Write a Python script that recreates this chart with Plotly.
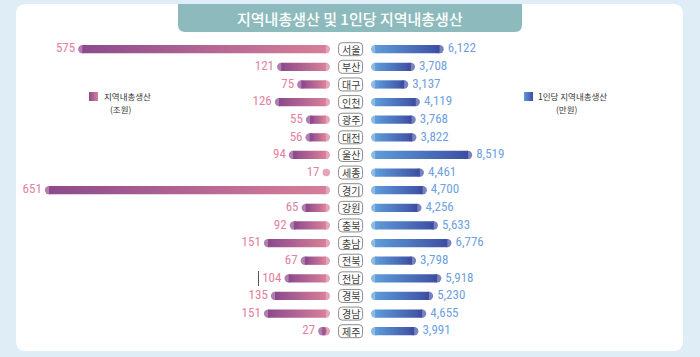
import plotly.graph_objects as go

# ---------------- data ----------------
regions = ["서울", "부산", "대구", "인천", "광주", "대전", "울산", "세종", "경기",
           "강원", "충북", "충남", "전북", "전남", "경북", "경남", "제주"]
grdp = [575, 121, 75, 126, 55, 56, 94, 17, 651, 65, 92, 151, 67, 104, 135, 151, 27]          # 조원
grdp_per_capita = [6122, 3708, 3137, 4119, 3768, 3822, 8519, 4461, 4700, 4256,
                   5633, 6776, 3798, 5918, 5230, 4655, 3991]                                  # 만원
title_text = "지역내총생산 및 1인당 지역내총생산"
left_legend = ["지역내총생산", "(조원)"]
right_legend = ["1인당 지역내총생산", "(만원)"]

# ---------------- style / geometry ----------------
W, H = 700, 357
BG = "#deedf6"
CARD = "#ffffff"
TITLE_BG = "#8dbbbd"
PURPLE, PINK = "#8d4a8d", "#d77f98"
LBLUE, DBLUE = "#5d9bd8", "#3e4fa3"
PINK_TXT, BLUE_TXT = "#e3819f", "#6fa1de"
NUM_FONT = "Liberation Sans Narrow, Roboto Condensed, Roboto, sans-serif"
KR_FONT = "Noto Sans CJK KR, Noto Sans, sans-serif"

L_ZERO_PX, L_SCALE = 330.0, 0.438      # left axis: zero pixel, px per unit
R_ZERO_PX, R_SCALE = 371.0, 0.01188    # right axis
ROW0_PX, ROW_PX = 49.2, 17.625
BAR_PX = 8.3
HALF = (BAR_PX / 2) / ROW_PX


def rr_path(x0, y0, x1, y1, r, top_round=True, bottom_round=True):
    p = []
    rb = r if bottom_round else 0
    rt = r if top_round else 0
    p.append(f"M {x0 + rb},{y0}")
    p.append(f"L {x1 - rb},{y0}")
    p.append(f"Q {x1},{y0} {x1},{y0 + rb}")
    p.append(f"L {x1},{y1 - rt}")
    p.append(f"Q {x1},{y1} {x1 - rt},{y1}")
    p.append(f"L {x0 + rt},{y1}")
    p.append(f"Q {x0},{y1} {x0},{y1 - rt}")
    p.append(f"L {x0},{y0 + rb}")
    p.append(f"Q {x0},{y0} {x0 + rb},{y0}")
    p.append("Z")
    return " ".join(p)


fig = go.Figure()


def add_bars(values, scale, xa, c_near, c_far, c_left, c_right):
    r = (BAR_PX / 2) / scale
    cx, cy, cc, cs = [], [], [], []
    for i, v in enumerate(values):
        if v > 2 * r:
            fig.add_trace(go.Scatter(
                x=[r, v - r, v - r, r, r],
                y=[i - HALF, i - HALF, i + HALF, i + HALF, i - HALF],
                mode="lines", fill="toself",
                line=dict(width=0, color="rgba(0,0,0,0)"),
                fillgradient=dict(type="horizontal",
                                  colorscale=[[0, c_left], [1, c_right]]),
                xaxis=xa, yaxis="y", hoverinfo="skip", showlegend=False))
            cx += [r, v - r]
            cy += [i, i]
            cc += [c_near, c_far]
            cs += [BAR_PX, BAR_PX]
        else:
            cx.append(v / 2)
            cy.append(i)
            cc.append(c_near)
            cs.append(v * scale)
    fig.add_trace(go.Scatter(
        x=cx, y=cy, mode="markers",
        marker=dict(size=cs, color=cc, line=dict(width=0)),
        xaxis=xa, yaxis="y", hoverinfo="skip", showlegend=False))


add_bars(grdp, L_SCALE, "x", PINK, PURPLE, PURPLE, PINK)
add_bars(grdp_per_capita, R_SCALE, "x2", LBLUE, DBLUE, LBLUE, DBLUE)

# value labels
fig.add_trace(go.Scatter(
    x=[v + 3 / L_SCALE for v in grdp], y=list(range(len(grdp))),
    mode="text", text=[f"{v:,}" for v in grdp], textposition="middle left",
    textfont=dict(family=NUM_FONT, size=13, color=PINK_TXT),
    xaxis="x", yaxis="y", hoverinfo="skip", showlegend=False))
fig.add_trace(go.Scatter(
    x=[v + 4 / R_SCALE for v in grdp_per_capita], y=list(range(len(grdp_per_capita))),
    mode="text", text=[f"{v:,}" for v in grdp_per_capita], textposition="middle right",
    textfont=dict(family=NUM_FONT, size=13, color=BLUE_TXT),
    xaxis="x2", yaxis="y", hoverinfo="skip", showlegend=False))

# legend squares (overlay pixel axis)
for x0, c0, c1 in [(89, PURPLE, PINK), (524, LBLUE, DBLUE)]:
    fig.add_trace(go.Scatter(
        x=[x0, x0 + 9, x0 + 9, x0, x0], y=[92, 92, 101, 101, 92],
        mode="lines", fill="toself", line=dict(width=0, color="rgba(0,0,0,0)"),
        fillgradient=dict(type="horizontal", colorscale=[[0, c0], [1, c1]]),
        xaxis="x3", yaxis="y3", hoverinfo="skip", showlegend=False))

shapes = []
shapes.append(dict(type="path", xref="paper", yref="paper", xsizemode="pixel", ysizemode="pixel",
                   xanchor=0, yanchor=1, layer="below",
                   path=rr_path(16, -351, 683, -4, 10),
                   fillcolor=CARD, line=dict(width=0)))
shapes.append(dict(type="path", xref="paper", yref="paper", xsizemode="pixel", ysizemode="pixel",
                   xanchor=0, yanchor=1, layer="below",
                   path=rr_path(178, -32, 522, -4, 7, top_round=False, bottom_round=True),
                   fillcolor=TITLE_BG, line=dict(width=0)))
for i in range(len(regions)):
    shapes.append(dict(type="path", xref="paper", yref="y", xsizemode="pixel", ysizemode="pixel",
                       xanchor=350.6 / W, yanchor=i, layer="above",
                       path=rr_path(-12, -6.5, 12, 6.5, 3.5),
                       fillcolor="white", line=dict(color="#8c8c8c", width=1)))
shapes.append(dict(type="line", xref="paper", yref="paper",
                   x0=258.5 / W, x1=258.5 / W, y0=1 - 271 / H, y1=1 - 286 / H,
                   line=dict(color="#555555", width=1)))

annotations = []
annotations.append(dict(text=title_text, x=350 / W, y=1 - 18 / H, xref="paper", yref="paper",
                        showarrow=False, xanchor="center", yanchor="middle",
                        font=dict(family=KR_FONT, size=15, color="white", weight=500)))
for i, name in enumerate(regions):
    annotations.append(dict(text=name, x=350.6 / W, y=i, xref="paper", yref="y",
                            showarrow=False, xanchor="center", yanchor="middle",
                            font=dict(family=KR_FONT, size=10, color="#3c3c3c")))
legend_txt = [
    (left_legend[0], 102, 96.5, "left"),
    (left_legend[1], 121, 108.5, "center"),
    (right_legend[0], 536, 96.5, "left"),
    (right_legend[1], 567, 108.5, "center"),
]
for t, x, y, anc in legend_txt:
    annotations.append(dict(text=t, x=x / W, y=1 - y / H, xref="paper", yref="paper",
                            showarrow=False, xanchor=anc, yanchor="middle",
                            font=dict(family=KR_FONT, size=8.5, color="#333333")))

y_top = -ROW0_PX / ROW_PX
y_bot = (H - ROW0_PX) / ROW_PX

fig.update_layout(
    width=W, height=H, margin=dict(l=0, r=0, t=0, b=0),
    paper_bgcolor=BG, plot_bgcolor="rgba(0,0,0,0)", showlegend=False,
    xaxis=dict(domain=[0, L_ZERO_PX / W], range=[L_ZERO_PX / L_SCALE, 0], visible=False,
               anchor="y", fixedrange=True),
    xaxis2=dict(domain=[R_ZERO_PX / W, 1], range=[0, (W - R_ZERO_PX) / R_SCALE], visible=False,
                anchor="y", fixedrange=True),
    yaxis=dict(domain=[0, 1], range=[y_bot, y_top], visible=False, anchor="x", fixedrange=True),
    xaxis3=dict(domain=[0, 1], range=[0, W], visible=False, anchor="y3", fixedrange=True),
    yaxis3=dict(domain=[0, 1], range=[H, 0], visible=False, anchor="x3", fixedrange=True),
    shapes=shapes, annotations=annotations,
)

fig.write_html("out.html",
               config={"displayModeBar": False},
               post_script="document.body.style.margin='0px';document.body.style.overflow='hidden';")
